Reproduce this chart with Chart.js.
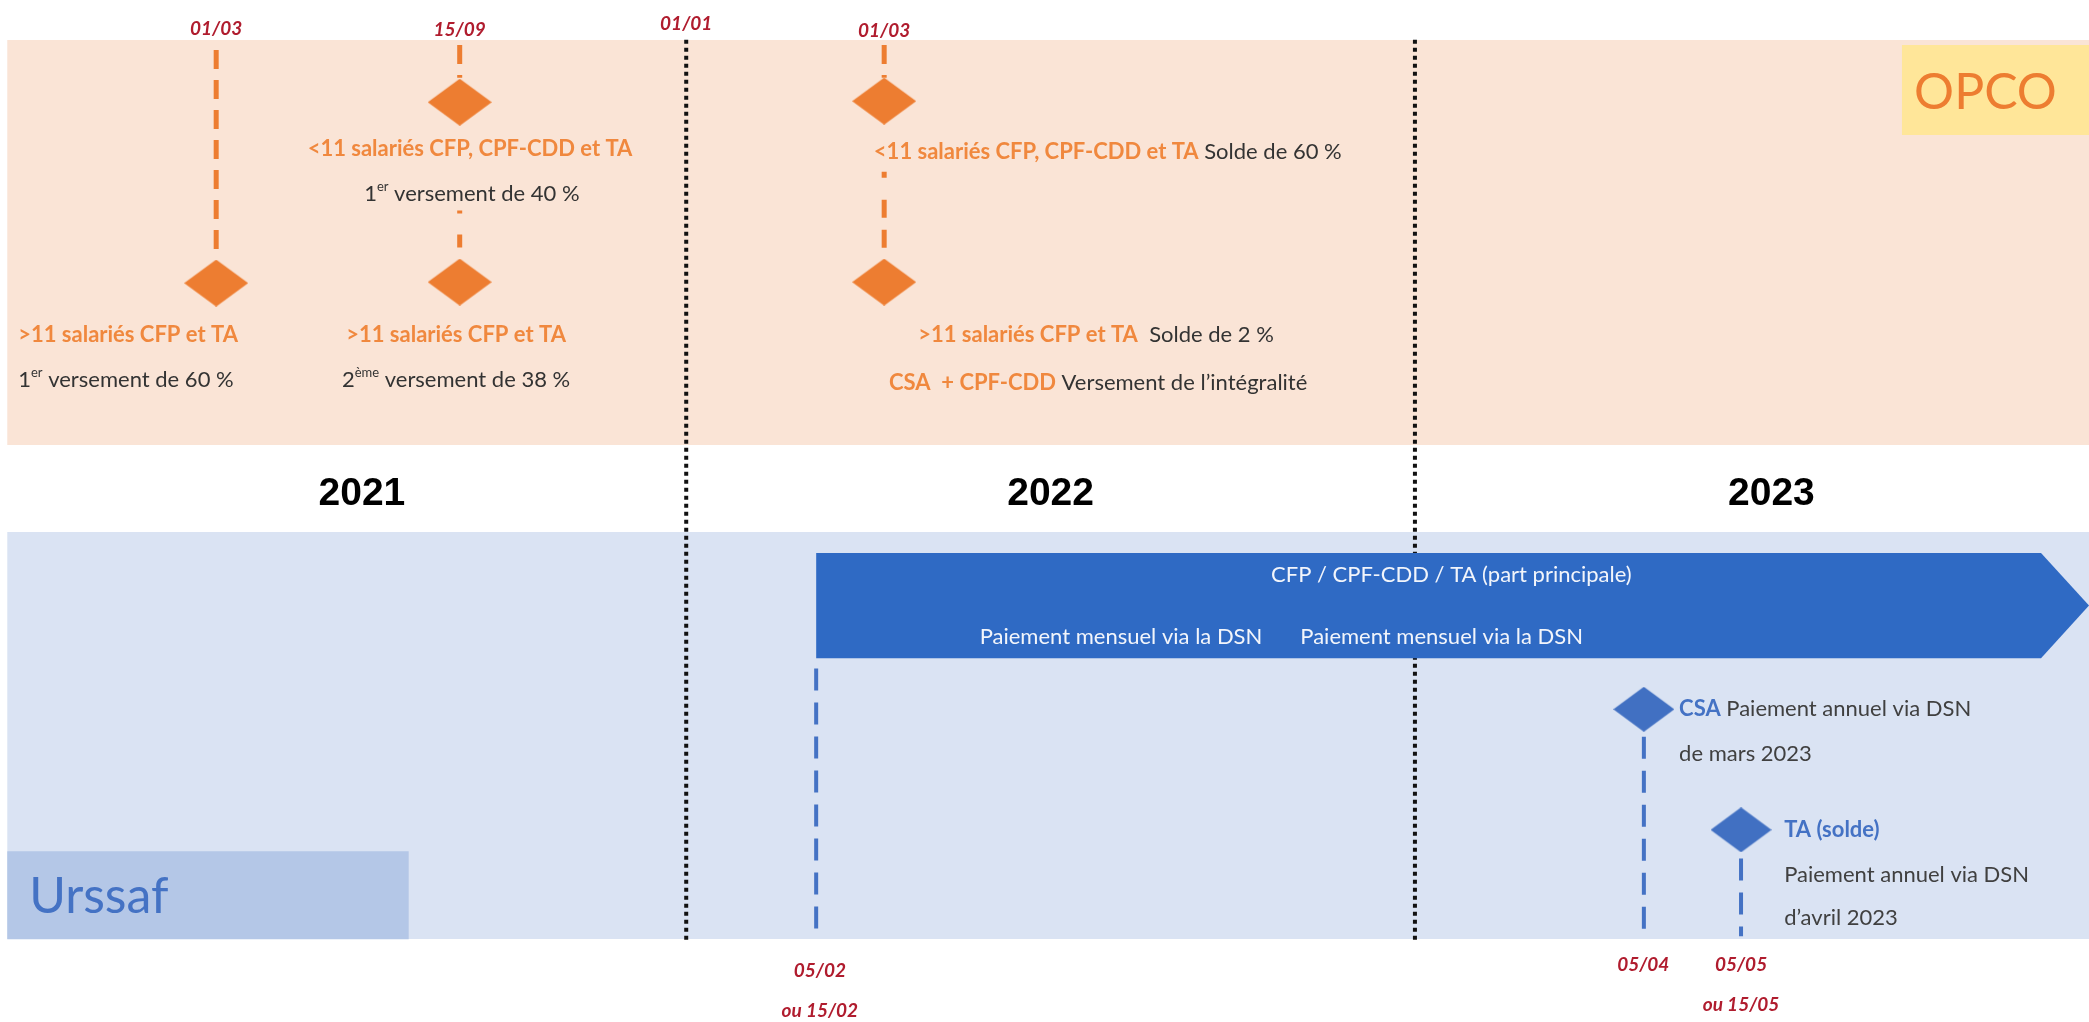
<!DOCTYPE html>
<html>
<head>
<meta charset="utf-8">
<script src="https://cdn.jsdelivr.net/npm/chart.js@4.4.1/dist/chart.umd.min.js"></script>
<style>
  html, body { margin: 0; padding: 0; background: #fff; }
  #wrap { width: 2089px; height: 1022px; }
</style>
</head>
<body>
<div id="wrap"><canvas id="timeline"></canvas></div>
<script>
// x = position on the schematic time axis, in months from Jan 2021 (not to scale, 12 = 01/01/2022, 24 = 01/01/2023)
// y = row from top (0) to bottom (100)
const yearLabels = ['2021', '2022', '2023'];
const yearPos = [6.66, 18.0, 29.87];
const yearBreaks = [12, 24];

// OPCO milestones
const opcoDates = ['01/03', '15/09', '01/01', '01/03'];
const opcoDatePos = [4.26, 8.27, 12, 15.26];
const opcoDateRow = [2.8, 2.9, 2.3, 3.0];
const opcoMilestonePos = [4.26, 8.27, 8.27, 15.26, 15.26];
const opcoMilestoneRow = [27.7, 10.0, 27.6, 9.9, 27.6];
const opcoLinkPos = [4.26, 8.27, 8.27, 15.26, 15.26];
const opcoLinkFrom = [4.9, 4.4, 20.6, 4.4, 16.8];
const opcoLinkTo = [25.4, 7.6, 24.3, 7.6, 24.3];
const opcoLinkDash = [[19, 11], [19, 11], [3, 21, 13, 30], [19, 11], [6, 22, 18, 12, 18, 12]];

// Urssaf milestones
const urssafDates = ['05/02', 'ou 15/02', '05/04', '05/05', 'ou 15/05'];
const urssafDatePos = [14.2, 14.2, 27.76, 29.37, 29.37];
const urssafDateRow = [95.0, 98.9, 94.4, 94.4, 98.3];
const urssafMilestonePos = [27.77, 29.37];
const urssafMilestoneRow = [69.4, 81.2];
const urssafLinkPos = [14.14, 27.77, 29.37];
const urssafLinkFrom = [65.4, 72.1, 84.0];
const urssafLinkTo = [91.5, 91.6, 91.6];

// monthly payment span (arrow)
const monthlyStart = 14.14;
const monthlyBodyEnd = 34.31;
const monthlyEnd = 35.1;
const monthlyRows = [54.1, 64.4];

// lanes
const laneNames = ['OPCO', 'Urssaf'];
const laneStart = 0.82;
const laneEnd = 35.1;
const laneRows = [[3.91, 43.54], [52.05, 91.88]];
const tagPos = [[32.02, 35.1], [0.82, 7.43]];
const tagRows = [[4.4, 13.2], [83.3, 91.9]];

// notes: [x, row, align, runs]
const opcoNotes = [
  [1.0, 32.8, 'left', [['>11 salariés CFP et TA', 'o']]],
  [1.0, 37.2, 'left', [['1', 'k'], ['er', 'ks'], [' versement de 60 %', 'k']]],
  [8.44, 14.6, 'center', [['<11 salariés CFP, CPF-CDD et TA', 'o']]],
  [8.47, 19.0, 'center', [['1', 'k'], ['er', 'ks'], [' versement de 40 %', 'k']]],
  [8.21, 32.8, 'center', [['>11 salariés CFP et TA', 'o']]],
  [8.21, 37.2, 'center', [['2', 'k'], ['ème', 'ks'], [' versement de 38 %', 'k']]],
  [15.09, 14.9, 'left', [['<11 salariés CFP, CPF-CDD et TA', 'o'], [' Solde de 60 %', 'k']]],
  [15.82, 32.8, 'left', [['>11 salariés CFP et TA', 'o'], ['  Solde de 2 %', 'k']]],
  [15.34, 37.5, 'left', [['CSA  + CPF-CDD', 'o'], [' Versement de l\u2019intégralité', 'k']]]
];
const urssafNotes = [
  [24.6, 56.3, 'center', [['CFP / CPF-CDD / TA (part principale)', 'w']]],
  [19.16, 62.3, 'center', [['Paiement mensuel via la DSN', 'w']]],
  [24.44, 62.3, 'center', [['Paiement mensuel via la DSN', 'w']]],
  [28.35, 69.4, 'left', [['CSA', 'b'], [' Paiement annuel via DSN', 'g']]],
  [28.35, 73.8, 'left', [['de mars 2023', 'g']]],
  [30.08, 81.2, 'left', [['TA (solde)', 'b']]],
  [30.08, 85.6, 'left', [['Paiement annuel via DSN', 'g']]],
  [30.08, 89.8, 'left', [['d\u2019avril 2023', 'g']]]
];

const ORANGE = '#ED7D31';
const BLUE = '#4472C4';
const DATE_RED = '#B01C2E';

const runStyles = {
  o: { font: 'bold 22px Lato', color: '#F0883E' },
  k: { font: '22px Lato', color: '#333333' },
  ks: { font: '13px Lato', color: '#333333', rise: 7 },
  w: { font: '22px Lato', color: '#F2F5FB' },
  b: { font: 'bold 22px Lato', color: BLUE },
  g: { font: '22px Lato', color: '#404040' }
};

function diamond(w, h, color) {
  const c = document.createElement('canvas');
  c.width = w; c.height = h;
  const g = c.getContext('2d');
  g.fillStyle = color;
  g.beginPath();
  g.moveTo(w / 2, 0); g.lineTo(w, h / 2); g.lineTo(w / 2, h); g.lineTo(0, h / 2);
  g.closePath(); g.fill();
  return c;
}

function rect(x0, x1, y0, y1) {
  return [{x: x0, y: y0}, {x: x1, y: y0}, {x: x1, y: y1}, {x: x0, y: y1}, {x: x0, y: y0}];
}

function shape(points, color, order) {
  return { data: points, showLine: true, fill: 'shape', backgroundColor: color,
    borderColor: 'rgba(0,0,0,0)', borderWidth: 1, pointRadius: 0, tension: 0, order };
}

function segment(x, y0, y1, color, width, dash, order) {
  return { data: [{x, y: y0}, {x, y: y1}], showLine: true, borderColor: color, borderWidth: width,
    borderDash: dash, borderCapStyle: 'butt', pointRadius: 0, fill: false, order };
}

// higher order is drawn first (underneath)
const datasets = [];
laneRows.forEach((r, i) => datasets.push(shape(rect(laneStart, laneEnd, r[0], r[1]), i === 0 ? '#FAE4D6' : '#DAE3F3', 20)));
tagPos.forEach((p, i) => datasets.push(shape(rect(p[0], p[1], tagRows[i][0], tagRows[i][1]), i === 0 ? '#FFE699' : '#B4C7E7', 18)));
yearBreaks.forEach(x => datasets.push(segment(x, 3.9, 92.3, '#111', 4, [4, 4], 12)));
datasets.push(shape([
  {x: monthlyStart, y: monthlyRows[0]}, {x: monthlyBodyEnd, y: monthlyRows[0]},
  {x: monthlyEnd, y: (monthlyRows[0] + monthlyRows[1]) / 2},
  {x: monthlyBodyEnd, y: monthlyRows[1]}, {x: monthlyStart, y: monthlyRows[1]},
  {x: monthlyStart, y: monthlyRows[0]}
], '#2F6AC4', 10));
opcoLinkPos.forEach((x, i) => datasets.push(segment(x, opcoLinkFrom[i], opcoLinkTo[i], ORANGE, 5, opcoLinkDash[i], 8)));
urssafLinkPos.forEach((x, i) => datasets.push(segment(x, urssafLinkFrom[i], urssafLinkTo[i], BLUE, 4, [22, 12], 8)));
datasets.push({
  data: opcoMilestonePos.map((x, i) => ({x, y: opcoMilestoneRow[i]})),
  pointStyle: diamond(64, 47, ORANGE), pointRadius: 1, showLine: false, order: 1
});
datasets.push({
  data: urssafMilestonePos.map((x, i) => ({x, y: urssafMilestoneRow[i]})),
  pointStyle: diamond(61, 45, '#4170C2'), pointRadius: 1, showLine: false, order: 1
});

function drawRuns(ctx, x, y, align, runs) {
  const widths = runs.map(([t, s]) => { ctx.font = runStyles[s].font; return ctx.measureText(t).width; });
  const total = widths.reduce((a, b) => a + b, 0);
  let cx = align === 'center' ? x - total / 2 : (align === 'right' ? x - total : x);
  runs.forEach(([t, s], i) => {
    const st = runStyles[s];
    ctx.font = st.font;
    ctx.fillStyle = st.color;
    ctx.fillText(t, cx, y - (st.rise || 0));
    cx += widths[i];
  });
}

const textPlugin = {
  id: 'timelineText',
  afterDatasetsDraw(chart) {
    const {ctx, scales: {x, y}} = chart;
    const px = v => x.getPixelForValue(v);
    const py = v => y.getPixelForValue(v);
    ctx.save();
    ctx.textBaseline = 'middle';

    // lane tags
    ctx.textAlign = 'left';
    ctx.font = '50px Lato';
    ctx.fillStyle = ORANGE;
    ctx.fillText(laneNames[0], px(32.22), py(9.1));
    ctx.fillStyle = BLUE;
    ctx.fillText(laneNames[1], px(1.18), py(87.8));

    // years
    ctx.textAlign = 'center';
    ctx.font = 'bold 39px "Liberation Sans", Arial, sans-serif';
    ctx.fillStyle = '#000';
    yearLabels.forEach((t, i) => ctx.fillText(t, px(yearPos[i]), py(48.4)));

    // dates
    ctx.font = 'bold italic 19px Lato';
    ctx.fillStyle = DATE_RED;
    opcoDates.forEach((t, i) => ctx.fillText(t, px(opcoDatePos[i]), py(opcoDateRow[i])));
    urssafDates.forEach((t, i) => ctx.fillText(t, px(urssafDatePos[i]), py(urssafDateRow[i])));

    ctx.textAlign = 'left';
    opcoNotes.concat(urssafNotes).forEach(([nx, ny, al, runs]) => drawRuns(ctx, px(nx), py(ny), al, runs));
    ctx.restore();
  }
};

new Chart(document.getElementById('timeline'), {
  type: 'scatter',
  data: { datasets },
  options: {
    responsive: true,
    maintainAspectRatio: false,
    animation: false,
    layout: { padding: 0, autoPadding: false },
    scales: {
      x: { type: 'linear', min: 0.7, max: 35.1, display: false },
      y: { type: 'linear', min: 0, max: 100, reverse: true, display: false }
    },
    plugins: {
      legend: { display: false },
      tooltip: { enabled: false }
    }
  },
  plugins: [textPlugin]
});
</script>
</body>
</html>
